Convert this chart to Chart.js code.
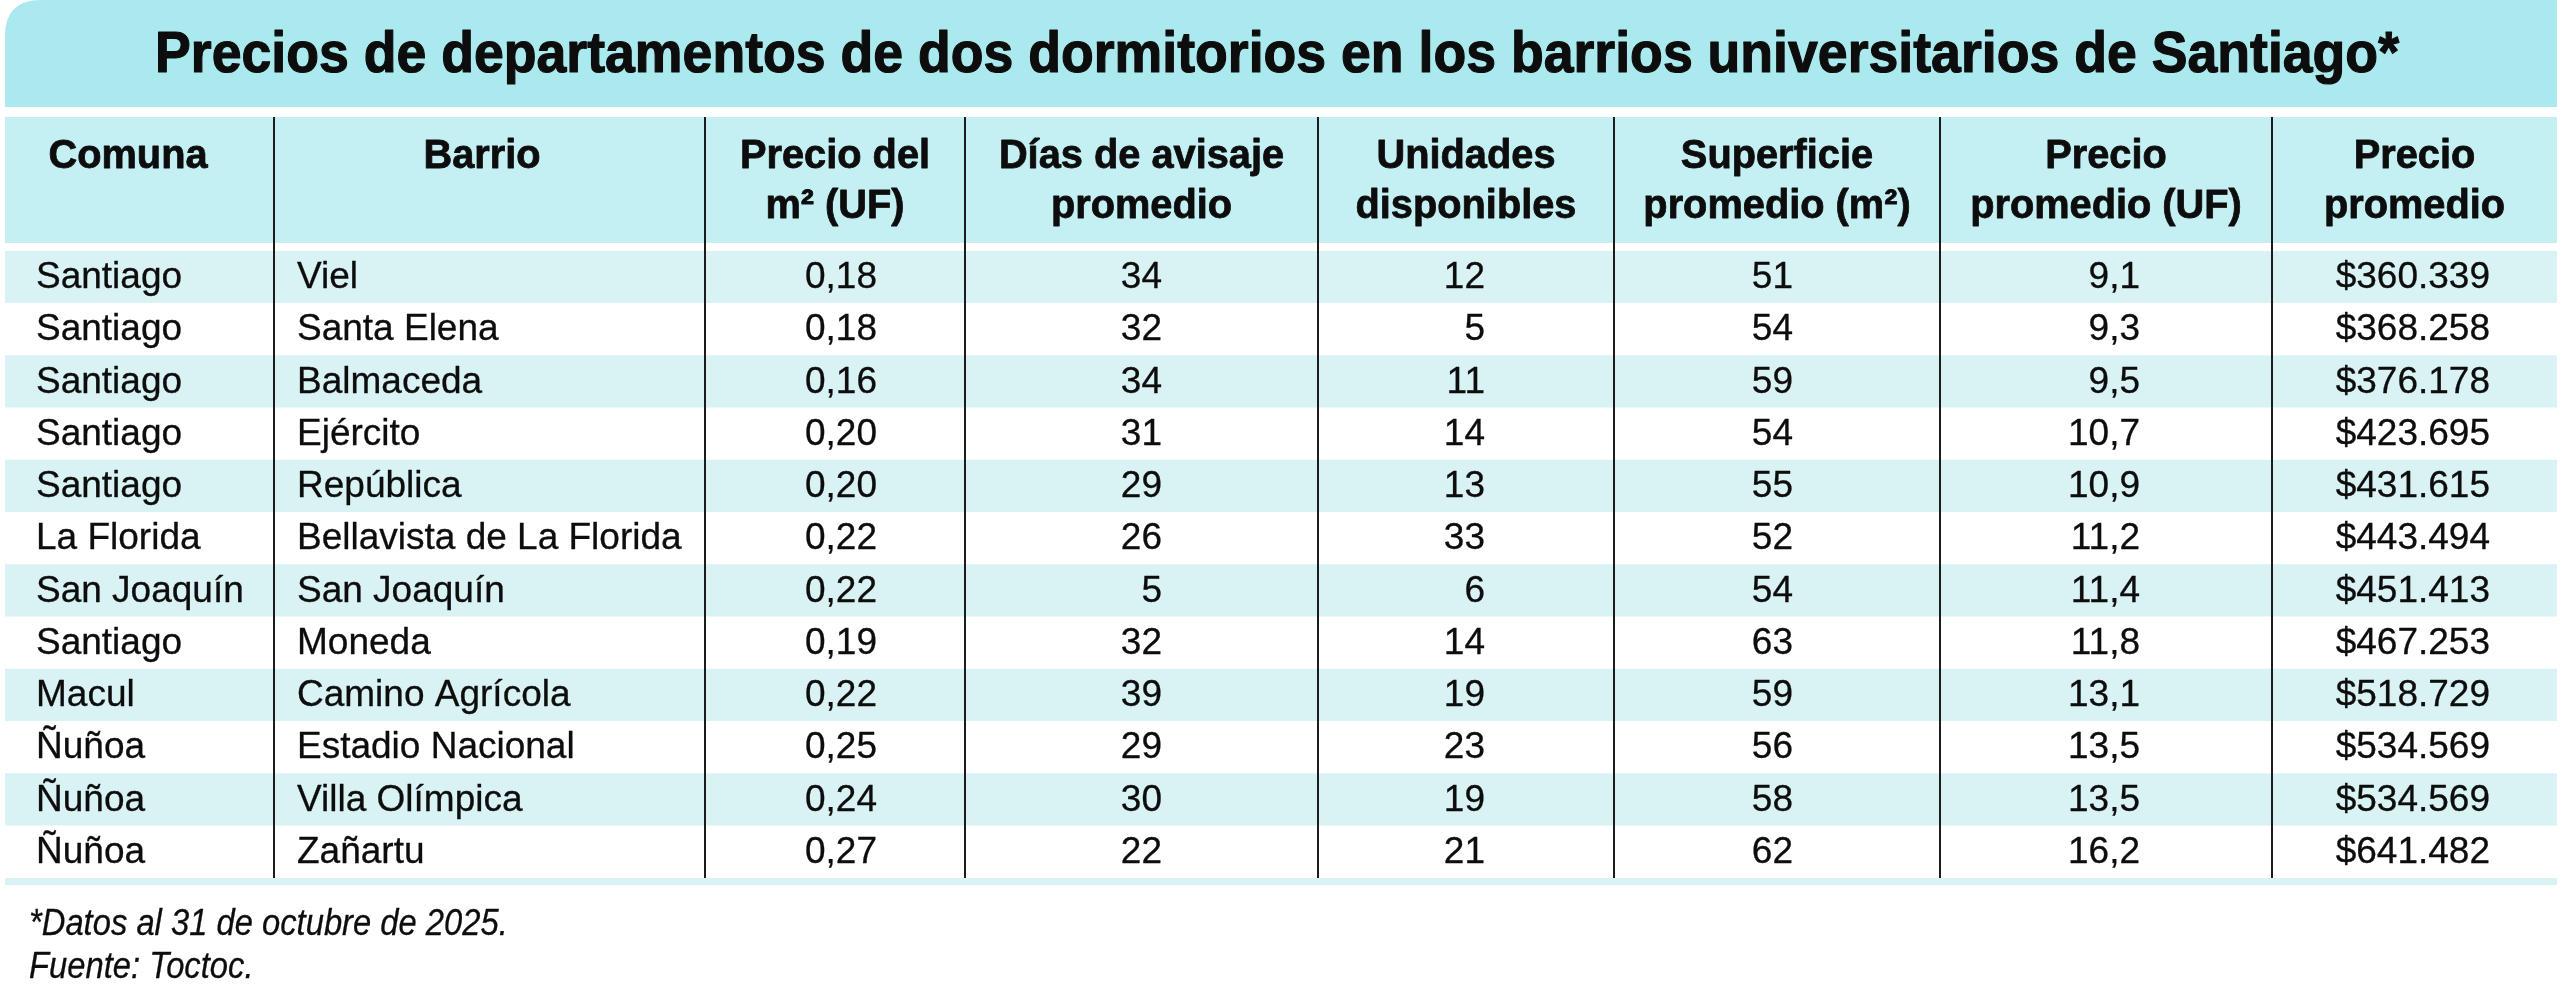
<!DOCTYPE html>
<html><head><meta charset="utf-8">
<script src="https://cdn.jsdelivr.net/npm/chart.js@4.4.1/dist/chart.umd.min.js"></script>
<style>html,body{margin:0;padding:0;background:#fff;overflow:hidden}#wrap{width:2560px;height:986px;position:relative}</style>
</head><body><div id="wrap"><canvas id="c"></canvas></div>
<script>
// ---------- DATA ----------
const titleText = 'Precios de departamentos de dos dormitorios en los barrios universitarios de Santiago*';
const headers = [
  ['Comuna'], ['Barrio'], ['Precio del', 'm² (UF)'], ['Días de avisaje', 'promedio'],
  ['Unidades', 'disponibles'], ['Superficie', 'promedio (m²)'], ['Precio', 'promedio (UF)'], ['Precio', 'promedio']
];
const comunas = ['Santiago','Santiago','Santiago','Santiago','Santiago','La Florida','San Joaquín','Santiago','Macul','Ñuñoa','Ñuñoa','Ñuñoa'];
const barrios = ['Viel','Santa Elena','Balmaceda','Ejército','República','Bellavista de La Florida','San Joaquín','Moneda','Camino Agrícola','Estadio Nacional','Villa Olímpica','Zañartu'];
const precioM2 = [0.18,0.18,0.16,0.20,0.20,0.22,0.22,0.19,0.22,0.25,0.24,0.27];
const diasAvisaje = [34,32,34,31,29,26,5,32,39,29,30,22];
const unidades = [12,5,11,14,13,33,6,14,19,23,19,21];
const superficie = [51,54,59,54,55,52,54,63,59,56,58,62];
const precioUF = [9.1,9.3,9.5,10.7,10.9,11.2,11.4,11.8,13.1,13.5,13.5,16.2];
const precioPesos = [360339,368258,376178,423695,431615,443494,451413,467253,518729,534569,534569,641482];
const notes = ['*Datos al 31 de octubre de 2025.', 'Fuente: Toctoc.'];

// ---------- LAYOUT / STYLE ----------
const TABLE_W = 2552;
const colEdges = [0, 269, 700, 960, 1313, 1609, 1935, 2267, TABLE_W];
const cellAnchors = [
  {align:'left', x:31}, {align:'left', x:292}, {align:'right', x:872}, {align:'right', x:1157},
  {align:'right', x:1480}, {align:'right', x:1788}, {align:'right', x:2135}, {align:'right', x:2485}
];
const headerCenters = [128, 482, null, null, null, null, null, null];
const C_TITLE = '#aaeaee', C_HEAD = '#c4eff3', C_ROW = '#d9f2f4', C_TEXT = '#0d0d0d';
const FONT = '"Liberation Sans", Arial, sans-serif';

const fmtDec = (v, d) => v.toFixed(d).replace('.', ',');
const fmtPesos = v => '$' + String(v).replace(/\B(?=(\d{3})+(?!\d))/g, '.');
const cellText = i => [
  comunas[i], barrios[i], fmtDec(precioM2[i], 2), String(diasAvisaje[i]), String(unidades[i]),
  String(superficie[i]), fmtDec(precioUF[i], 1), fmtPesos(precioPesos[i])
];

function drawScaled(ctx, text, x, y, align, font, sx, stroke) {
  ctx.save();
  ctx.font = font; ctx.textAlign = align; ctx.textBaseline = 'alphabetic';
  ctx.translate(x, y); ctx.scale(sx, 1);
  ctx.fillText(text, 0, 0);
  if (stroke) { ctx.lineWidth = stroke; ctx.strokeStyle = ctx.fillStyle; ctx.lineJoin = 'round'; ctx.strokeText(text, 0, 0); }
  ctx.restore();
}

const tablePlugin = {
  id: 'tablePlugin',
  beforeDraw(chart) {
    const {ctx, chartArea: a, scales: {x}} = chart;
    const L = a.left, R = a.right;
    ctx.save();
    ctx.fillStyle = '#ffffff';
    ctx.fillRect(0, 0, chart.width, chart.height);
    // title band with rounded top-left
    const r = 36, tTop = 0, tBot = 107;
    ctx.fillStyle = C_TITLE;
    ctx.beginPath();
    ctx.moveTo(L, tBot); ctx.lineTo(L, tTop + r);
    ctx.quadraticCurveTo(L, tTop, L + r, tTop);
    ctx.lineTo(R, tTop); ctx.lineTo(R, tBot); ctx.closePath(); ctx.fill();
    // header band
    ctx.fillStyle = C_HEAD;
    ctx.fillRect(L, 117, R - L, 243 - 117);
    // title text
    ctx.fillStyle = C_TEXT;
    const tFont = 'bold 57px ' + FONT;
    ctx.font = tFont;
    const tw = ctx.measureText(titleText).width;
    drawScaled(ctx, titleText, 1277, 72, 'center', tFont, Math.min(1, 2244 / tw), 1.2);
    // header text
    const hFont = 'bold 41px ' + FONT;
    headers.forEach((lines, c) => {
      const cx = headerCenters[c] != null ? headerCenters[c] : (x.getPixelForValue(colEdges[c]) + x.getPixelForValue(colEdges[c + 1])) / 2;
      lines.forEach((ln, k) => drawScaled(ctx, ln, cx, 168 + k * 50, 'center', hFont, 0.97, 0.8));
    });
    ctx.restore();
  },
  afterDatasetsDraw(chart) {
    const {ctx, chartArea: a, scales: {x, y}} = chart;
    ctx.save();
    // bottom strip
    ctx.fillStyle = C_ROW;
    ctx.fillRect(a.left, a.bottom, a.right - a.left, 7);
    // vertical dividers
    ctx.strokeStyle = '#1c1c1c'; ctx.lineWidth = 2;
    for (let c = 1; c < colEdges.length - 1; c++) {
      const px = Math.round(x.getPixelForValue(colEdges[c]));
      ctx.beginPath(); ctx.moveTo(px, 117); ctx.lineTo(px, a.bottom); ctx.stroke();
    }
    // cells
    ctx.fillStyle = C_TEXT;
    const bFont = '37px ' + FONT;
    barrios.forEach((_, i) => {
      const cy = y.getPixelForValue(i);
      cellText(i).forEach((t, c) => {
        const an = cellAnchors[c];
        drawScaled(ctx, t, x.getPixelForValue(an.x), cy + 11, an.align, bFont, 1, 0.3);
      });
    });
    // footer notes
    const nFont = 'italic 37px ' + FONT;
    notes.forEach((n, k) => drawScaled(ctx, n, 29, 935 + k * 43, 'left', nFont, 0.885, 0.3));
    ctx.restore();
  }
};

new Chart(document.getElementById('c'), {
  type: 'bar',
  data: {
    labels: barrios,
    datasets: [{
      label: 'fila',
      data: barrios.map(() => [0, TABLE_W]),
      backgroundColor: barrios.map((_, i) => i % 2 === 0 ? C_ROW : '#ffffff'),
      barPercentage: 1, categoryPercentage: 1, borderWidth: 0
    }]
  },
  options: {
    indexAxis: 'y',
    responsive: true, maintainAspectRatio: false, devicePixelRatio: 1, animation: false,
    layout: {padding: {top: 251, bottom: 108, left: 5, right: 3}},
    scales: {
      x: {type: 'linear', min: 0, max: TABLE_W, display: false},
      y: {type: 'category', display: false, offset: true}
    },
    plugins: {legend: {display: false}, tooltip: {enabled: false}}
  },
  plugins: [tablePlugin]
});
</script>
</body></html>
